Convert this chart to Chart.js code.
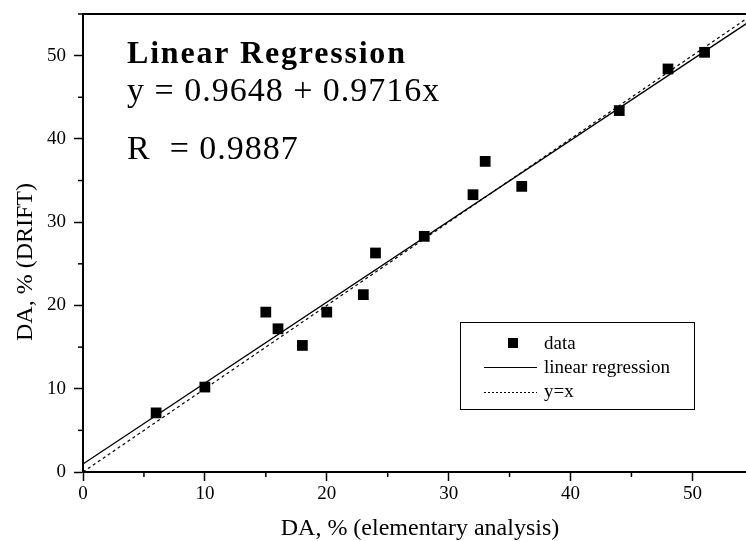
<!DOCTYPE html>
<html>
<head>
<meta charset="utf-8">
<script src="https://cdn.jsdelivr.net/npm/chart.js@4/dist/chart.umd.min.js"></script>
<style>
  html, body { margin: 0; padding: 0; background: #fff; }
  #wrap { width: 746px; height: 541px; }
</style>
</head>
<body>
<div id="wrap"><canvas id="chart"></canvas></div>
<script>
// DA (elementary analysis) vs DA (DRIFT)
const daElemental = [6, 10, 15, 16, 18, 20, 23, 24, 28, 32, 33, 36, 44, 48, 51];
const daDrift = [7.1, 10.2, 19.2, 17.2, 15.2, 19.2, 21.3, 26.3, 28.3, 33.3, 37.3, 34.3, 43.4, 48.4, 50.4];

// line end points
const regX = [0, 55];
const regY = [0.96, 54.40];
const idX = [0, 55];
const idY = [0, 55];

const xTicks = [0, 10, 20, 30, 40, 50];
const yTicks = [0, 10, 20, 30, 40, 50];
const minorTicks = [5, 15, 25, 35, 45, 55];

const titleText = 'Linear Regression';
const eqText = 'y = 0.9648 + 0.9716x';
const rText = 'R  = 0.9887';
const legendLabels = ['data', 'linear regression', 'y=x'];
const xTitle = 'DA, % (elementary analysis)';
const yTitle = 'DA, % (DRIFT)';

const serif = "'Liberation Serif', 'Times New Roman', serif";

function toPoints(xs, ys) {
    return xs.map((x, i) => ({x: x, y: ys[i]}));
}

const extras = {
    id: 'extras',
    afterDraw(chart) {
        const ctx = chart.ctx;
        const a = chart.chartArea;
        const xs = chart.scales.x, ys = chart.scales.y;
        ctx.save();
        ctx.strokeStyle = '#000';
        ctx.fillStyle = '#000';

        // top frame line
        ctx.lineWidth = 2;
        ctx.beginPath();
        ctx.moveTo(a.left, a.top);
        ctx.lineTo(a.right, a.top);
        ctx.stroke();

        // minor ticks
        ctx.lineWidth = 1.5;
        minorTicks.forEach(v => {
            if (v <= xs.max) {
                const px = xs.getPixelForValue(v);
                ctx.beginPath();
                ctx.moveTo(px, a.bottom);
                ctx.lineTo(px, a.bottom + 5);
                ctx.stroke();
            }
            if (v <= ys.max) {
                const py = ys.getPixelForValue(v);
                ctx.beginPath();
                ctx.moveTo(a.left, py);
                ctx.lineTo(a.left - 5, py);
                ctx.stroke();
            }
        });

        // annotation text
        ctx.textAlign = 'left';
        ctx.textBaseline = 'alphabetic';
        ctx.font = 'bold 32px ' + serif;
        ctx.letterSpacing = '1.8px';
        ctx.fillText(titleText, a.left + 44, a.top + 49);
        ctx.font = '34px ' + serif;
        ctx.letterSpacing = '1px';
        ctx.fillText(eqText, a.left + 44, a.top + 87);
        ctx.fillText(rText, a.left + 44, a.top + 145);
        ctx.letterSpacing = '0px';

        // legend box
        const lx = 460, ly = 322, lw = 234, lh = 87;
        ctx.lineWidth = 1;
        ctx.strokeRect(lx + 0.5, ly + 0.5, lw, lh);
        ctx.font = '19px ' + serif;
        ctx.fillRect(508, 338, 10, 10);
        ctx.fillText(legendLabels[0], 544, 349);
        ctx.beginPath();
        ctx.moveTo(484, 367.5);
        ctx.lineTo(537, 367.5);
        ctx.stroke();
        ctx.fillText(legendLabels[1], 544, 373);
        ctx.setLineDash([2, 2]);
        ctx.beginPath();
        ctx.moveTo(484, 392.5);
        ctx.lineTo(537, 392.5);
        ctx.stroke();
        ctx.setLineDash([]);
        ctx.fillText(legendLabels[2], 544, 397);

        // axis titles
        ctx.font = '24px ' + serif;
        ctx.textAlign = 'center';
        ctx.fillText(xTitle, 420, 535);
        ctx.save();
        ctx.translate(32, 262);
        ctx.rotate(-Math.PI / 2);
        ctx.fillText(yTitle, 0, 0);
        ctx.restore();

        ctx.restore();
    }
};

new Chart(document.getElementById('chart'), {
    type: 'scatter',
    data: {
        datasets: [
            {
                label: legendLabels[0],
                data: toPoints(daElemental, daDrift),
                pointStyle: 'rect',
                pointRadius: 7.6,
                pointHoverRadius: 7.6,
                backgroundColor: '#000',
                borderWidth: 0,
                order: 0
            },
            {
                label: legendLabels[1],
                type: 'line',
                data: toPoints(regX, regY),
                borderColor: '#000',
                borderWidth: 1.3,
                pointRadius: 0,
                fill: false,
                order: 1
            },
            {
                label: legendLabels[2],
                type: 'line',
                data: toPoints(idX, idY),
                borderColor: '#000',
                borderWidth: 1.2,
                borderDash: [3, 3],
                pointRadius: 0,
                fill: false,
                order: 2
            }
        ]
    },
    options: {
        responsive: true,
        maintainAspectRatio: false,
        animation: false,
        events: [],
        layout: { padding: { top: 14, right: 0, left: 0, bottom: 0 }, autoPadding: false },
        plugins: {
            legend: { display: false },
            tooltip: { enabled: false }
        },
        scales: {
            x: {
                type: 'linear',
                min: 0,
                max: 54.4,
                afterFit: s => {
                    s.height = 69;
                    s.paddingLeft = 0;
                    s.paddingRight = 0;
                },
                afterBuildTicks: s => { s.ticks = xTicks.map(v => ({value: v})); },
                ticks: {
                    color: '#000',
                    font: { family: serif, size: 19 },
                    padding: 2,
                    maxRotation: 0
                },
                grid: {
                    drawOnChartArea: false,
                    drawTicks: true,
                    tickLength: 9,
                    tickColor: '#000',
                    tickWidth: 1.5
                },
                border: { display: true, color: '#000', width: 2 }
            },
            y: {
                type: 'linear',
                min: 0,
                max: 55,
                afterFit: s => {
                    s.width = 83;
                    s.paddingTop = 0;
                    s.paddingBottom = 0;
                },
                afterBuildTicks: s => { s.ticks = yTicks.map(v => ({value: v})); },
                ticks: {
                    color: '#000',
                    font: { family: serif, size: 19 },
                    padding: 8
                },
                grid: {
                    drawOnChartArea: false,
                    drawTicks: true,
                    tickLength: 9,
                    tickColor: '#000',
                    tickWidth: 1.5
                },
                border: { display: true, color: '#000', width: 2 }
            }
        }
    },
    plugins: [extras]
});
</script>
</body>
</html>
